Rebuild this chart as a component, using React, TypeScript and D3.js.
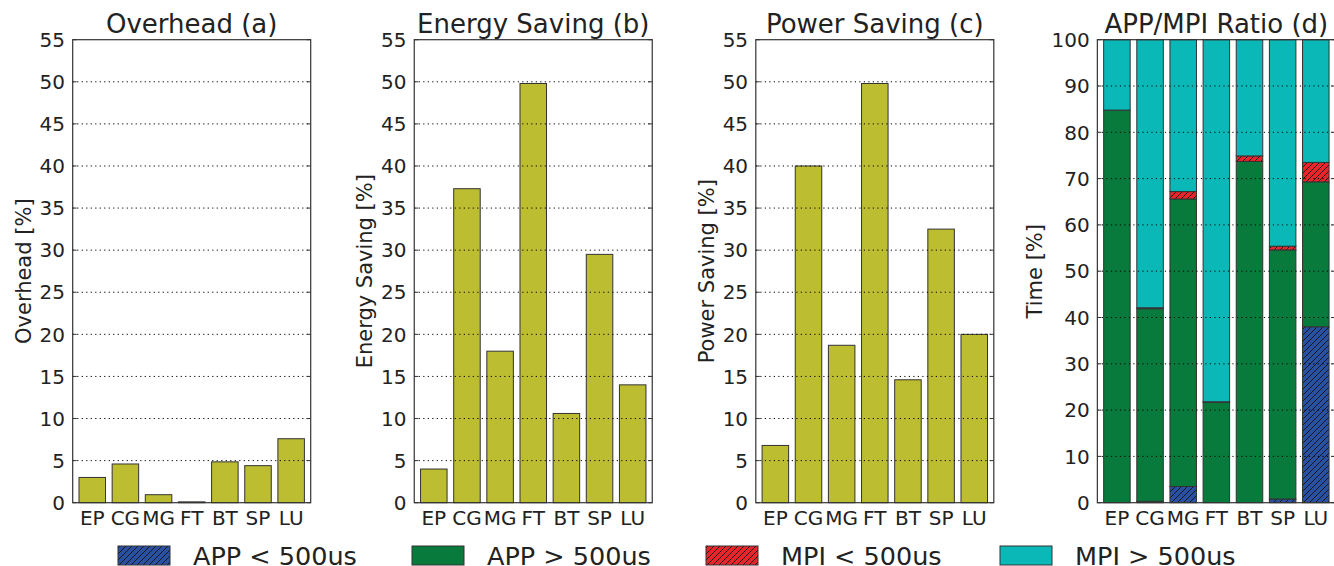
import * as d3 from "d3";

// benchmarks and values
const benchmarks = ["EP", "CG", "MG", "FT", "BT", "SP", "LU"];
const overhead = [3.0, 4.6, 0.95, 0.1, 4.85, 4.4, 7.6];
const energySaving = [4.0, 37.3, 18.0, 49.8, 10.6, 29.5, 14.0];
const powerSaving = [6.8, 40.0, 18.7, 49.8, 14.6, 32.5, 20.0];

// APP/MPI ratio, stacked bottom to top
const appShort = [0, 0.3, 3.5, 0, 0, 0.8, 38.0];
const appLong = [84.8, 41.6, 62.1, 21.7, 73.7, 53.8, 31.3];
const mpiShort = [0, 0.2, 1.6, 0.1, 1.2, 0.8, 4.2];
const mpiLong = [15.2, 57.9, 32.8, 78.2, 25.1, 44.6, 26.5];

const savingTicks = [0, 5, 10, 15, 20, 25, 30, 35, 40, 45, 50, 55];
const ratioTicks = [0, 10, 20, 30, 40, 50, 60, 70, 80, 90, 100];

const legendNames = ["APP < 500us", "APP > 500us", "MPI < 500us", "MPI > 500us"];

const W = 1334;
const H = 566;
const FONT = "DejaVu Sans";
const TOP = 39.7;
const BOTTOM = 502.7;
const PANEL_W = 238;
const PANEL_STEP = 341.55;
const FIRST_LEFT = 72.7;
const EDGE = "#333333";
const OLIVE = "#bcbd30";
const FILLS = ["url(#hatchBlue)", "#077a3c", "url(#hatchRed)", "#0ab8b8"];

const simplePanels = [
  {title: "Overhead (a)", label: "Overhead [%]", values: overhead},
  {title: "Energy Saving (b)", label: "Energy Saving [%]", values: energySaving},
  {title: "Power Saving (c)", label: "Power Saving [%]", values: powerSaving},
];

function Frame({left, y, ticks, title, label}: any) {
  const right = left + PANEL_W;
  const digits = d3.max(ticks, (t: number) => String(t).length) as number;
  const labelX = left - 7.7 - digits * 12.72 - 9;
  return (
    <g>
      {ticks.map((t: number) => (
        <g key={t}>
          {t > ticks[0] && t < ticks[ticks.length - 1] && (
            <line x1={left} x2={right} y1={y(t)} y2={y(t)} stroke="#000" strokeWidth={1}
              strokeDasharray="1.2,3.3" />
          )}
          <line x1={left} x2={left + 4} y1={y(t)} y2={y(t)} stroke={EDGE} />
          <line x1={right - 4} x2={right} y1={y(t)} y2={y(t)} stroke={EDGE} />
          <text x={left - 7.7} y={y(t) + 7.2} textAnchor="end" fontSize={20} fill="#222">{t}</text>
        </g>
      ))}
      <rect x={left} y={TOP} width={PANEL_W} height={BOTTOM - TOP} fill="none" stroke={EDGE} strokeWidth={1.2} />
      <text x={left + PANEL_W / 2} y={33} textAnchor="middle" fontSize={26} fill="#222">{title}</text>
      <text transform={`translate(${labelX},${(TOP + BOTTOM) / 2}) rotate(-90)`} textAnchor="middle"
        fontSize={21} fill="#222">{label}</text>
    </g>
  );
}

function XLabels({x}: any) {
  return (
    <g>
      {benchmarks.map((b) => (
        <text key={b} x={(x(b) as number) + x.bandwidth() / 2} y={524.5} textAnchor="middle" fontSize={20} fill="#222">{b}</text>
      ))}
    </g>
  );
}

export default function App() {
  const ySaving = d3.scaleLinear().domain([0, 55]).range([BOTTOM, TOP]);
  const yRatio = d3.scaleLinear().domain([0, 100]).range([BOTTOM, TOP]);
  const lefts = d3.range(4).map((i) => FIRST_LEFT + i * PANEL_STEP);
  const band = (left: number) =>
    d3.scaleBand().domain(benchmarks).range([left, left + PANEL_W]).paddingInner(0.2).paddingOuter(0.19);

  const stackRows = benchmarks.map((b, i) => ({
    b, s0: appShort[i], s1: appLong[i], s2: mpiShort[i], s3: mpiLong[i],
  }));
  const stacked = d3.stack<any>().keys(["s0", "s1", "s2", "s3"])(stackRows);
  const xd = band(lefts[3]);

  return (
    <div style={{position: "absolute", left: 0, top: 0}}>
      <svg width={W} height={H} fontFamily={FONT} style={{display: "block", background: "#fff"}}>
        <defs>
          <pattern id="hatchBlue" patternUnits="userSpaceOnUse" width={6} height={6}>
            <rect width={6} height={6} fill="#2a50a2" />
            <path d="M-1,1 l2,-2 M0,6 l6,-6 M5,7 l2,-2" stroke="#111" strokeWidth={0.9} />
          </pattern>
          <pattern id="hatchRed" patternUnits="userSpaceOnUse" width={6} height={6}>
            <rect width={6} height={6} fill="#e8252a" />
            <path d="M-1,1 l2,-2 M0,6 l6,-6 M5,7 l2,-2" stroke="#111" strokeWidth={0.9} />
          </pattern>
        </defs>

        {simplePanels.map((p, k) => {
          const x = band(lefts[k]);
          return (
            <g key={p.title}>
              {p.values.map((v, i) => (
                <rect key={benchmarks[i]} x={x(benchmarks[i])} y={ySaving(v)} width={x.bandwidth()}
                  height={BOTTOM - ySaving(v)} fill={OLIVE} stroke={EDGE} strokeWidth={1} />
              ))}
              <Frame left={lefts[k]} y={ySaving} ticks={savingTicks} title={p.title} label={p.label} />
              <XLabels x={x} />
            </g>
          );
        })}

        <g>
          {stacked.map((layer, k) => (
            <g key={layer.key}>
              {layer.map((d: any) => (
                d[1] - d[0] > 0 ? (
                  <rect key={d.data.b} x={xd(d.data.b)} y={yRatio(d[1])} width={xd.bandwidth()}
                    height={yRatio(d[0]) - yRatio(d[1])} fill={FILLS[k]} stroke={EDGE} strokeWidth={1} />
                ) : null
              ))}
            </g>
          ))}
          <Frame left={lefts[3]} y={yRatio} ticks={ratioTicks} title="APP/MPI Ratio (d)" label="Time [%]" />
          <XLabels x={xd} />
        </g>

        {legendNames.map((name, i) => {
          const lx = 118 + i * 294;
          return (
            <g key={name}>
              <rect x={lx} y={546} width={52} height={19} fill={FILLS[i]} stroke={EDGE} strokeWidth={1} />
              <text x={lx + 75} y={565.3} fontSize={25.5} fill="#222">{name}</text>
            </g>
          );
        })}
      </svg>
    </div>
  );
}
